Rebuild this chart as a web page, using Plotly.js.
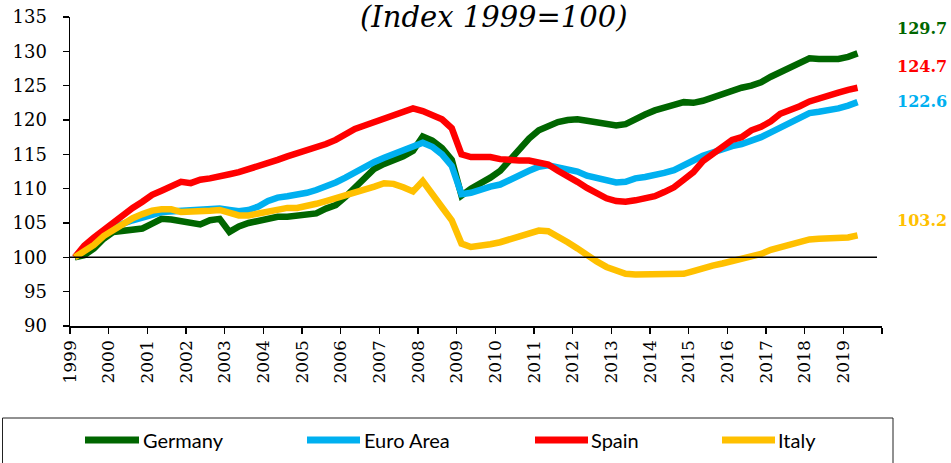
<!DOCTYPE html>
<html>
<head>
<meta charset="utf-8">
<script src="https://cdn.plot.ly/plotly-3.0.1.min.js"></script>
<style>html,body{margin:0;padding:0;background:#fff;}#chart{width:951px;height:463px;}</style>
</head>
<body>
<div id="chart"></div>
<script>
// ---- Data (quarterly index, 1999 = 100; 1999Q1 .. 2019Q2) ----
const seriesNames = ["Germany", "Euro Area", "Spain", "Italy"];
const startYear = 1999;
const germany = [100.0,100.3,101.3,102.7,103.7,103.8,103.9,104.2,104.9,105.6,105.5,105.3,105.1,104.8,105.4,105.6,103.7,104.5,105.0,105.3,105.7,105.9,105.9,106.0,106.2,106.4,107.1,107.6,108.8,110.2,111.6,112.9,113.6,114.1,114.7,115.5,117.6,117.0,115.9,114.2,109.0,110.0,110.7,111.6,112.6,114.2,115.7,117.3,118.5,119.2,119.7,120.0,120.1,119.9,119.6,119.3,119.2,119.4,120.2,120.8,121.4,121.9,122.2,122.6,122.5,122.8,123.3,123.7,124.3,124.7,125.0,125.5,126.3,127.0,127.7,128.5,129.0,128.9,128.8,128.9,129.2,129.7];
const euroArea = [100.0,101.3,102.6,103.6,104.3,104.9,105.4,105.9,106.2,106.6,106.7,106.7,106.8,106.9,107.1,107.1,106.9,106.7,106.9,107.4,108.2,108.7,108.9,109.1,109.4,109.8,110.3,110.9,111.6,112.4,113.2,113.9,114.5,115.0,115.6,116.1,116.7,116.1,115.0,113.3,109.2,109.4,109.9,110.3,110.6,111.3,111.9,112.6,113.2,113.4,113.1,112.8,112.5,111.9,111.6,111.2,110.9,111.0,111.5,111.7,111.9,112.3,112.7,113.3,114.1,114.8,115.3,115.8,116.2,116.5,116.9,117.5,118.2,118.9,119.7,120.5,121.0,121.2,121.4,121.7,122.1,122.6];
const spain = [100.0,101.7,102.9,104.0,105.3,106.2,107.2,108.1,109.1,109.7,110.4,111.0,110.8,111.3,111.5,111.9,112.1,112.4,112.8,113.2,113.6,114.2,114.7,115.1,115.5,115.9,116.5,117.1,118.0,118.7,119.2,119.7,120.2,120.7,121.0,121.7,121.3,120.8,120.1,118.8,115.0,114.6,114.6,114.6,114.3,114.1,114.1,114.1,113.8,113.5,112.6,111.9,111.0,110.1,109.3,108.6,108.2,108.1,108.3,108.5,108.9,109.5,110.2,111.3,112.4,114.0,115.1,116.2,117.1,117.5,118.5,119.0,119.8,120.9,121.4,122.0,122.7,123.2,123.6,124.0,124.4,124.7];
const italy = [100.0,100.9,101.8,103.1,104.0,104.9,105.7,106.3,106.8,107.0,107.0,106.6,106.6,106.6,106.8,106.9,106.5,106.1,106.1,106.4,106.8,107.1,107.2,107.2,107.4,107.8,108.2,108.6,108.9,109.4,109.8,110.3,110.8,110.7,110.2,109.6,111.1,109.4,107.3,105.4,102.0,101.5,101.6,101.9,102.2,102.6,103.1,103.5,103.9,103.8,103.1,102.2,101.3,100.3,99.4,98.6,98.0,97.6,97.5,97.5,97.4,97.5,97.5,97.6,98.0,98.5,98.8,99.1,99.4,99.7,100.0,100.5,101.1,101.5,101.9,102.4,102.6,102.7,102.7,102.7,102.9,103.2];
const endLabels = ["129.7", "122.6", "124.7", "103.2"]; // Germany, Euro Area, Spain, Italy
const yearLabels = ["1999","2000","2001","2002","2003","2004","2005","2006","2007","2008","2009","2010","2011","2012","2013","2014","2015","2016","2017","2018","2019",""];
const titleText = "(Index 1999=100)";

// ---- Styling ----
const colors = ["#006600", "#00B0F0", "#FF0000", "#FFC000"];
const values = [germany, euroArea, spain, italy];

// quarter dates (mid-quarter)
const qMonths = ["02", "05", "08", "11"];
const dates = germany.map((_, i) => (startYear + Math.floor(i / 4)) + "-" + qMonths[i % 4] + "-15");
const tickVals = yearLabels.map((_, i) => (startYear + i) + "-01-01");

const traces = values.map((v, k) => ({
  type: "scatter", mode: "lines", name: seriesNames[k],
  x: dates, y: v,
  line: {color: colors[k], width: 6.5, shape: "linear"},
  hoverinfo: "x+y+name", showlegend: false
}));

// pixel helpers for plot-area geometry
const W = 951, H = 463, L = 70, R = 882, T = 17, B = 326;
const px = x => (x - L) / (R - L);
const py = y => (B - y) / (B - T);

const serif = "DejaVu Serif, Liberation Serif, serif";
const sans = "Lato, Carlito, Liberation Sans, sans-serif";

const annotations = [];
const shapes = [];

// title
annotations.push({xref: "paper", yref: "paper", x: px(494), y: py(17), xanchor: "center", yanchor: "middle",
  text: "<i>" + titleText + "</i>", showarrow: false, font: {family: serif, size: 29, color: "#000"}});

// end value labels
const endLabelY = [28, 102, 67, 220];
endLabels.forEach((t, k) => {
  annotations.push({xref: "paper", yref: "paper", x: px(922), y: py(endLabelY[k]), xanchor: "center", yanchor: "middle",
    text: "<b>" + t + "</b>", showarrow: false, font: {family: serif, size: 16, color: colors[k]}});
});

// reference line at 100
shapes.push({type: "line", xref: "paper", yref: "y", x0: 0, x1: px(877), y0: 100, y1: 100,
  line: {color: "#000", width: 1.5}, layer: "above"});

// legend box
shapes.push({type: "rect", xref: "paper", yref: "paper", x0: px(2.5), x1: px(893), y0: py(418), y1: py(480),
  line: {color: "#222", width: 1}, fillcolor: "rgba(0,0,0,0)"});
const legLine = [[85, 139], [307, 360], [535, 588], [722, 775]];
const legText = [141, 362, 589, 776];
seriesNames.forEach((n, k) => {
  shapes.push({type: "line", xref: "paper", yref: "paper", x0: px(legLine[k][0]), x1: px(legLine[k][1]),
    y0: py(440), y1: py(440), line: {color: colors[k], width: 7}});
  annotations.push({xref: "paper", yref: "paper", x: px(legText[k]), y: py(440), xanchor: "left", yanchor: "middle",
    text: n, showarrow: false, font: {family: sans, size: 20, color: "#000"}});
});

const layout = {
  width: W, height: H,
  margin: {l: L, r: W - R, t: T, b: H - B, pad: 0},
  paper_bgcolor: "#fff", plot_bgcolor: "#fff",
  showlegend: false,
  xaxis: {
    type: "date", range: [tickVals[0], tickVals[tickVals.length - 1]],
    tickmode: "array", tickvals: tickVals, ticktext: yearLabels,
    tickangle: -90, ticks: "outside", ticklen: 6, tickwidth: 1.5, tickcolor: "#000",
    showline: true, linecolor: "#000", linewidth: 1.5, showgrid: false, zeroline: false,
    tickfont: {family: serif, size: 17, color: "#000"}, fixedrange: true
  },
  yaxis: {
    range: [90, 135], tickmode: "linear", tick0: 90, dtick: 5,
    ticks: "outside", ticklen: 6, tickwidth: 1.5, tickcolor: "#000",
    showline: true, linecolor: "#000", linewidth: 1.5, showgrid: false, zeroline: false,
    tickfont: {family: serif, size: 18, color: "#000"}, ticklabelstandoff: 12, fixedrange: true
  },
  shapes: shapes,
  annotations: annotations
};

Plotly.newPlot("chart", traces, layout, {displayModeBar: false, staticPlot: true});
</script>
</body>
</html>
